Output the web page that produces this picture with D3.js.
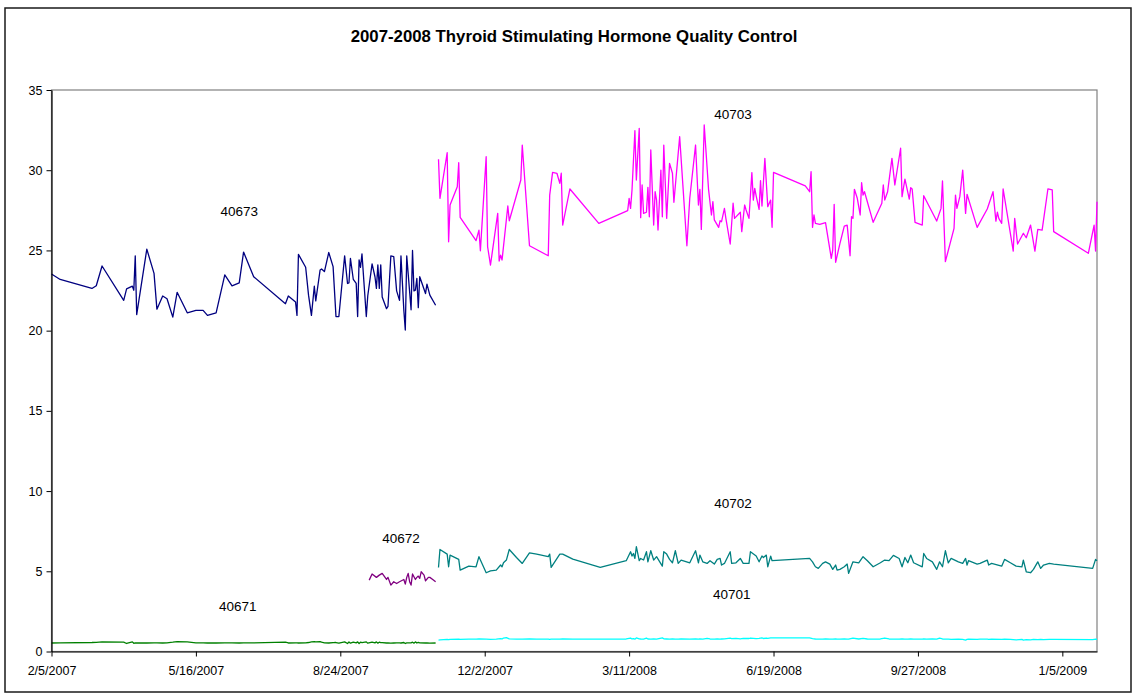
<!DOCTYPE html>
<html>
<head>
<meta charset="utf-8">
<title>2007-2008 Thyroid Stimulating Hormone Quality Control</title>
<script src="https://cdn.jsdelivr.net/npm/d3@7"></script>
<style>
  body { margin: 0; background: #fff; }
  svg { display: block; font-family: Arial, "Liberation Sans", sans-serif; }
</style>
</head>
<body>
<div id="chart"></div>
<script>
// ---- data ----

// 2007 lots (40671 and 40673 run on the same days)
const lot2007Dates = ["2007-02-05","2007-02-11","2007-03-05","2007-03-08","2007-03-12","2007-03-27","2007-03-29","2007-04-02","2007-04-03","2007-04-04",
  "2007-04-05","2007-04-12","2007-04-17","2007-04-19","2007-04-23","2007-04-26","2007-04-30","2007-05-03","2007-05-10","2007-05-16",
  "2007-05-21","2007-05-24","2007-05-30","2007-06-05","2007-06-10","2007-06-15","2007-06-18","2007-06-25","2007-07-17","2007-07-19",
  "2007-07-24","2007-07-25","2007-07-26","2007-07-31","2007-08-02","2007-08-04","2007-08-06","2007-08-07","2007-08-10","2007-08-11",
  "2007-08-13","2007-08-16","2007-08-19","2007-08-21","2007-08-23","2007-08-27","2007-08-29","2007-08-30","2007-08-31","2007-09-02",
  "2007-09-04","2007-09-05","2007-09-06","2007-09-07","2007-09-08","2007-09-11","2007-09-12","2007-09-15","2007-09-17","2007-09-18",
  "2007-09-19","2007-09-20","2007-09-21","2007-09-22","2007-09-25","2007-09-26","2007-09-28","2007-09-30","2007-10-02","2007-10-04",
  "2007-10-05","2007-10-07","2007-10-08","2007-10-09","2007-10-12","2007-10-13","2007-10-14","2007-10-15","2007-10-16","2007-10-17",
  "2007-10-18","2007-10-22","2007-10-23","2007-10-25","2007-10-29"];

const lot40673 = [23.53,23.19,22.63,22.8,24.03,21.89,22.6,22.77,22.52,24.66,
  21.0,25.08,23.57,21.34,22.16,21.99,20.84,22.39,21.11,21.26,
  21.26,20.95,21.11,23.47,22.79,22.98,24.9,23.36,21.68,22.16,
  21.79,20.95,24.75,23.95,22.21,20.95,22.77,21.85,23.78,23.84,
  23.68,24.87,23.99,20.88,20.88,24.66,22.94,22.98,24.5,23.19,
  22.94,20.88,24.41,23.95,24.79,20.88,22.16,24.16,23.36,22.63,
  24.1,22.63,24.1,22.1,21.37,21.51,24.66,24.62,22.48,21.89,
  24.66,21.26,20.04,24.66,21.3,25.0,22.48,22.52,23.26,21.43,
  23.36,22.31,22.9,22.21,21.58];

const lot40671 = [0.53,0.54,0.56,0.57,0.6,0.58,0.5,0.6,0.51,0.54,
  0.53,0.53,0.54,0.54,0.53,0.54,0.58,0.62,0.6,0.54,
  0.54,0.53,0.53,0.54,0.54,0.53,0.54,0.54,0.58,0.53,
  0.54,0.54,0.53,0.54,0.56,0.6,0.62,0.6,0.62,0.58,
  0.54,0.53,0.55,0.56,0.52,0.6,0.5,0.6,0.52,0.59,
  0.54,0.6,0.5,0.58,0.55,0.6,0.52,0.59,0.54,0.6,
  0.52,0.58,0.55,0.55,0.53,0.54,0.52,0.53,0.54,0.54,
  0.53,0.56,0.5,0.54,0.54,0.58,0.52,0.6,0.53,0.57,
  0.54,0.53,0.54,0.52,0.53];

// lot 40672 only started in September 2007
const lot40672Dates = ["2007-09-13","2007-09-15","2007-09-18","2007-09-20","2007-09-22","2007-09-25","2007-09-26","2007-09-28","2007-09-30","2007-10-02",
  "2007-10-04","2007-10-07","2007-10-08","2007-10-09","2007-10-10","2007-10-11","2007-10-12","2007-10-13","2007-10-15","2007-10-16",
  "2007-10-17","2007-10-18","2007-10-19","2007-10-21","2007-10-22","2007-10-24","2007-10-25","2007-10-27","2007-10-29"];
const lot40672 = [4.45,4.83,4.62,4.76,4.87,4.49,4.62,4.14,4.35,4.24,
  4.35,4.49,4.2,4.62,4.87,4.35,4.14,4.83,4.49,4.62,
  4.7,4.56,4.97,4.76,4.41,4.62,4.62,4.49,4.35];

// 2008 high lot
const lot40703Dates = ["2007-10-31","2007-11-01","2007-11-06","2007-11-07","2007-11-08","2007-11-13","2007-11-14","2007-11-15","2007-11-26","2007-11-28",
  "2007-11-29","2007-12-03","2007-12-04","2007-12-06","2007-12-11","2007-12-12","2007-12-13","2007-12-14","2007-12-18","2007-12-19",
  "2007-12-27","2007-12-28","2008-01-02","2008-01-15","2008-01-16","2008-01-18","2008-01-21","2008-01-23","2008-01-24","2008-01-25",
  "2008-01-30","2008-02-19","2008-03-10","2008-03-11","2008-03-12","2008-03-13","2008-03-15","2008-03-16","2008-03-18","2008-03-19",
  "2008-03-20","2008-03-21","2008-03-23","2008-03-24","2008-03-25","2008-03-26","2008-03-28","2008-03-29","2008-03-30","2008-03-31",
  "2008-04-02","2008-04-03","2008-04-04","2008-04-06","2008-04-08","2008-04-10","2008-04-11","2008-04-15","2008-04-20","2008-04-22",
  "2008-04-26","2008-04-28","2008-04-29","2008-04-30","2008-05-02","2008-05-05","2008-05-07","2008-05-08","2008-05-09","2008-05-12",
  "2008-05-13","2008-05-14","2008-05-16","2008-05-17","2008-05-20","2008-05-22","2008-05-23","2008-05-27","2008-05-28","2008-05-30",
  "2008-05-31","2008-06-02","2008-06-04","2008-06-05","2008-06-06","2008-06-07","2008-06-09","2008-06-10","2008-06-11","2008-06-13",
  "2008-06-15","2008-06-17","2008-06-18","2008-06-19","2008-07-11","2008-07-14","2008-07-15","2008-07-16","2008-07-17","2008-07-18",
  "2008-07-21","2008-07-25","2008-07-29","2008-07-30","2008-07-31","2008-08-01","2008-08-04","2008-08-07","2008-08-09","2008-08-11",
  "2008-08-12","2008-08-13","2008-08-14","2008-08-16","2008-08-18","2008-08-19","2008-08-20","2008-08-21","2008-08-27","2008-09-02",
  "2008-09-03","2008-09-04","2008-09-06","2008-09-09","2008-09-11","2008-09-15","2008-09-16","2008-09-18","2008-09-21","2008-09-22",
  "2008-09-23","2008-09-25","2008-09-30","2008-10-01","2008-10-10","2008-10-13","2008-10-14","2008-10-16","2008-10-22","2008-10-23",
  "2008-10-24","2008-10-26","2008-10-28","2008-10-30","2008-10-31","2008-11-07","2008-11-14","2008-11-18","2008-11-20","2008-11-21",
  "2008-11-22","2008-11-24","2008-11-25","2008-12-02","2008-12-03","2008-12-05","2008-12-09","2008-12-11","2008-12-14","2008-12-17",
  "2008-12-19","2008-12-22","2008-12-26","2008-12-29","2008-12-30","2009-01-23","2009-01-27","2009-01-28","2009-01-29"];
const lot40703 = [30.68,28.25,31.09,25.54,27.83,28.97,30.47,27.06,25.61,26.27,
  24.98,30.84,25.23,24.09,27.31,24.34,24.71,24.4,27.77,26.85,
  29.39,31.57,25.29,24.67,28.45,29.87,29.81,29.18,29.81,26.58,
  28.83,26.69,27.48,28.25,27.62,28.77,32.46,29.39,32.61,27.04,
  29.08,27.31,27.38,28.93,27.1,31.26,26.58,28.66,28.14,26.27,
  30.01,27.1,31.57,27.0,30.43,29.81,28.0,32.09,25.29,28.25,
  31.57,27.83,28.81,26.31,32.82,28.81,27.21,28.04,26.9,26.44,
  26.85,26.79,27.62,27.0,25.4,27.94,27.0,27.38,26.17,27.83,
  27.52,27.0,29.85,28.14,28.87,28.39,27.56,29.35,27.77,30.74,
  27.73,28.14,26.44,29.87,29.02,28.66,29.91,26.44,27.21,26.69,
  26.63,26.73,24.51,25.02,27.87,24.26,25.44,26.52,26.58,24.67,
  27.1,27.0,28.81,28.25,27.21,29.22,28.45,28.66,26.75,27.94,
  29.08,28.14,28.66,30.74,29.08,31.37,28.35,29.45,28.2,28.91,
  28.83,26.75,26.58,28.41,26.83,27.62,29.33,24.3,26.38,28.45,
  27.62,28.35,30.01,27.31,28.5,26.44,27.58,28.66,26.83,27.38,
  27.0,26.69,28.83,24.96,27.0,25.4,26.07,25.79,26.58,24.96,
  26.31,26.27,28.83,28.77,26.17,24.82,26.58,24.96,28.04];

// 2008 mid and low lots (40701 and 40702 run on the same days)
const lot4070xDates = ["2007-10-31","2007-11-01","2007-11-06","2007-11-07","2007-11-08","2007-11-14","2007-11-15","2007-11-21","2007-11-26","2007-11-28",
  "2007-12-03","2007-12-06","2007-12-10","2007-12-13","2007-12-14","2007-12-15","2007-12-17","2007-12-19","2007-12-24","2007-12-28",
  "2008-01-02","2008-01-07","2008-01-15","2008-01-16","2008-01-17","2008-01-23","2008-01-25","2008-02-01","2008-02-20","2008-03-09",
  "2008-03-12","2008-03-13","2008-03-14","2008-03-15","2008-03-16","2008-03-18","2008-03-19","2008-03-21","2008-03-23","2008-03-24",
  "2008-03-26","2008-03-28","2008-03-30","2008-04-03","2008-04-04","2008-04-06","2008-04-08","2008-04-10","2008-04-12","2008-04-14",
  "2008-04-16","2008-04-22","2008-04-26","2008-04-28","2008-04-29","2008-05-01","2008-05-04","2008-05-06","2008-05-09","2008-05-11",
  "2008-05-13","2008-05-14","2008-05-16","2008-05-20","2008-05-21","2008-05-24","2008-05-27","2008-05-29","2008-06-02","2008-06-03",
  "2008-06-07","2008-06-09","2008-06-11","2008-06-12","2008-06-14","2008-06-15","2008-06-17","2008-06-18","2008-07-14","2008-07-16",
  "2008-07-18","2008-07-20","2008-07-23","2008-07-25","2008-07-28","2008-07-30","2008-08-01","2008-08-02","2008-08-04","2008-08-07",
  "2008-08-09","2008-08-10","2008-08-13","2008-08-17","2008-08-20","2008-08-23","2008-08-27","2008-09-01","2008-09-04","2008-09-07",
  "2008-09-10","2008-09-14","2008-09-16","2008-09-18","2008-09-20","2008-09-22","2008-09-24","2008-09-30","2008-10-01","2008-10-03",
  "2008-10-07","2008-10-10","2008-10-12","2008-10-14","2008-10-16","2008-10-18","2008-10-20","2008-10-25","2008-10-28","2008-10-30",
  "2008-10-31","2008-11-01","2008-11-07","2008-11-09","2008-11-14","2008-11-15","2008-11-17","2008-11-24","2008-11-26","2008-11-30",
  "2008-12-04","2008-12-08","2008-12-09","2008-12-11","2008-12-14","2008-12-16","2008-12-19","2008-12-21","2008-12-23","2008-12-27",
  "2008-12-30","2009-01-26","2009-01-28","2009-01-29"];
const lot40702 = [5.24,6.36,6.07,5.28,6.01,5.74,5.07,5.32,5.28,5.91,
  4.91,5.03,5.07,5.39,5.28,5.53,5.7,6.36,5.86,5.49,
  6.15,6.07,5.91,6.07,5.24,6.07,6.07,5.76,5.24,5.66,
  6.22,5.95,6.11,5.8,6.53,5.66,5.8,5.7,6.22,5.59,
  6.28,5.7,5.91,5.32,6.22,6.07,5.74,5.53,6.28,5.49,
  5.7,5.53,6.28,5.53,6.01,5.59,5.49,5.66,5.45,5.74,
  5.8,5.39,5.49,6.22,5.49,5.53,5.8,5.49,5.49,6.22,
  5.95,5.59,5.95,5.86,6.01,5.28,5.95,5.66,5.8,5.59,
  5.28,5.18,5.49,5.59,5.45,5.12,5.39,5.07,5.12,5.28,
  5.45,4.87,5.59,5.53,5.91,5.66,5.28,5.53,5.7,5.66,
  5.99,5.8,5.28,5.86,5.53,6.01,5.53,5.28,6.11,5.8,
  5.59,5.12,5.59,5.28,6.28,5.53,5.8,5.59,5.49,5.8,
  5.39,5.66,5.45,5.49,5.7,5.39,5.49,5.32,5.74,5.53,
  5.32,5.28,5.7,4.97,4.91,5.12,5.59,5.18,5.39,5.49,
  5.45,5.18,5.74,5.66];
const lot40701 = [0.71,0.72,0.75,0.74,0.76,0.77,0.76,0.77,0.77,0.78,
  0.77,0.76,0.77,0.8,0.78,0.84,0.87,0.79,0.77,0.77,
  0.78,0.77,0.77,0.76,0.77,0.77,0.78,0.77,0.77,0.78,
  0.84,0.78,0.8,0.77,0.85,0.79,0.78,0.77,0.83,0.78,
  0.77,0.78,0.77,0.85,0.79,0.78,0.77,0.78,0.77,0.77,
  0.78,0.77,0.78,0.77,0.78,0.77,0.82,0.78,0.77,0.78,
  0.77,0.78,0.79,0.83,0.8,0.82,0.79,0.82,0.81,0.84,
  0.8,0.82,0.85,0.81,0.84,0.82,0.85,0.85,0.85,0.8,
  0.78,0.77,0.77,0.78,0.77,0.77,0.78,0.77,0.77,0.78,
  0.77,0.77,0.83,0.78,0.82,0.78,0.77,0.78,0.84,0.78,
  0.77,0.77,0.78,0.77,0.77,0.78,0.77,0.77,0.78,0.77,
  0.78,0.77,0.83,0.78,0.77,0.77,0.76,0.77,0.75,0.71,
  0.75,0.77,0.76,0.77,0.77,0.76,0.77,0.76,0.77,0.76,
  0.72,0.75,0.71,0.74,0.72,0.75,0.74,0.75,0.74,0.75,
  0.75,0.74,0.77,0.76];

// axis settings
const axisStart = "2007-02-05", axisEnd = "2009-01-29";
const tickStepDays = 100, tickCount = 8;
const yTicks = [0, 5, 10, 15, 20, 25, 30, 35];

// lot labels, anchored in chart coordinates
const lotLabels = [
  { text: "40673", date: "2007-06-15", value: 27.4 },
  { text: "40703", date: "2008-05-22", value: 33.45 },
  { text: "40702", date: "2008-05-22", value: 9.25 },
  { text: "40672", date: "2007-10-05", value: 7.07 },
  { text: "40701", date: "2008-05-21", value: 3.58 },
  { text: "40671", date: "2007-06-14", value: 2.83 }
];

const parseDate = d3.utcParse("%Y-%m-%d");

const series = [
  { lot: "40671", dates: lot2007Dates, values: lot40671, color: "#008000" },
  { lot: "40672", dates: lot40672Dates, values: lot40672, color: "#800080" },
  { lot: "40673", dates: lot2007Dates, values: lot40673, color: "#000080" },
  { lot: "40701", dates: lot4070xDates, values: lot40701, color: "#00FFFF" },
  { lot: "40702", dates: lot4070xDates, values: lot40702, color: "#008080" },
  { lot: "40703", dates: lot40703Dates, values: lot40703, color: "#FF00FF" }
].map(s => ({ ...s, points: s.dates.map((d, i) => ({ date: parseDate(d), value: s.values[i] })) }));

// ---- layout ----
const width = 1133, height = 694;
const plot = { left: 51.5, top: 90, right: 1097, bottom: 651.5 };

const svg = d3.select("#chart")
    .append("svg")
    .attr("width", width)
    .attr("height", height);

// outer frame of the chart object
svg.append("rect")
    .attr("x", 5).attr("y", 8)
    .attr("width", 1126).attr("height", 684)
    .attr("fill", "#fff")
    .attr("stroke", "#1a1a1a")
    .attr("stroke-width", 1.5);

svg.append("text")
    .attr("x", 574)
    .attr("y", 42)
    .attr("text-anchor", "middle")
    .attr("font-size", 16.8)
    .attr("font-weight", "bold")
    .text("2007-2008 Thyroid Stimulating Hormone Quality Control");

const xScale = d3.scaleUtc()
    .domain([parseDate(axisStart), parseDate(axisEnd)])
    .range([plot.left, plot.right]);

const yScale = d3.scaleLinear()
    .domain([0, 35])
    .range([plot.bottom, plot.top]);

// plot area border (grey on top/right, axes draw over the rest)
svg.append("rect")
    .attr("x", plot.left).attr("y", plot.top)
    .attr("width", plot.right - plot.left).attr("height", plot.bottom - plot.top)
    .attr("fill", "none")
    .attr("stroke", "#808080")
    .attr("stroke-width", 1.2);

// the lines
const line = d3.line()
    .x(d => xScale(d.date))
    .y(d => yScale(d.value));

svg.append("g")
    .selectAll("path")
    .data(series)
    .join("path")
    .attr("fill", "none")
    .attr("stroke", d => d.color)
    .attr("stroke-width", 1.3)
    .attr("stroke-linejoin", "round")
    .attr("d", d => line(d.points));

// axes
const xTickValues = d3.range(tickCount).map(i => d3.utcDay.offset(parseDate(axisStart), i * tickStepDays));

const xAxis = svg.append("g")
    .attr("transform", `translate(0, ${plot.bottom})`)
    .call(d3.axisBottom(xScale)
        .tickValues(xTickValues)
        .tickFormat(d3.utcFormat("%-m/%-d/%Y"))
        .tickSize(5)
        .tickSizeOuter(0)
        .tickPadding(10));

const yAxis = svg.append("g")
    .attr("transform", `translate(${plot.left}, 0)`)
    .call(d3.axisLeft(yScale)
        .tickValues(yTicks)
        .tickSize(5)
        .tickSizeOuter(0)
        .tickPadding(4));

[xAxis, yAxis].forEach(g => {
    g.attr("font-family", null).attr("font-size", null);
    g.select(".domain").attr("stroke", "#000").attr("stroke-width", 1.2);
    g.selectAll(".tick line").attr("stroke", "#000");
    g.selectAll(".tick text").attr("fill", "#000").style("font-size", "12.5px");
});

// lot number labels
svg.append("g")
    .selectAll("text")
    .data(lotLabels)
    .join("text")
    .attr("x", d => xScale(parseDate(d.date)))
    .attr("y", d => yScale(d.value))
    .attr("text-anchor", "middle")
    .attr("dominant-baseline", "central")
    .attr("font-size", 13.5)
    .text(d => d.text);
</script>
</body>
</html>
